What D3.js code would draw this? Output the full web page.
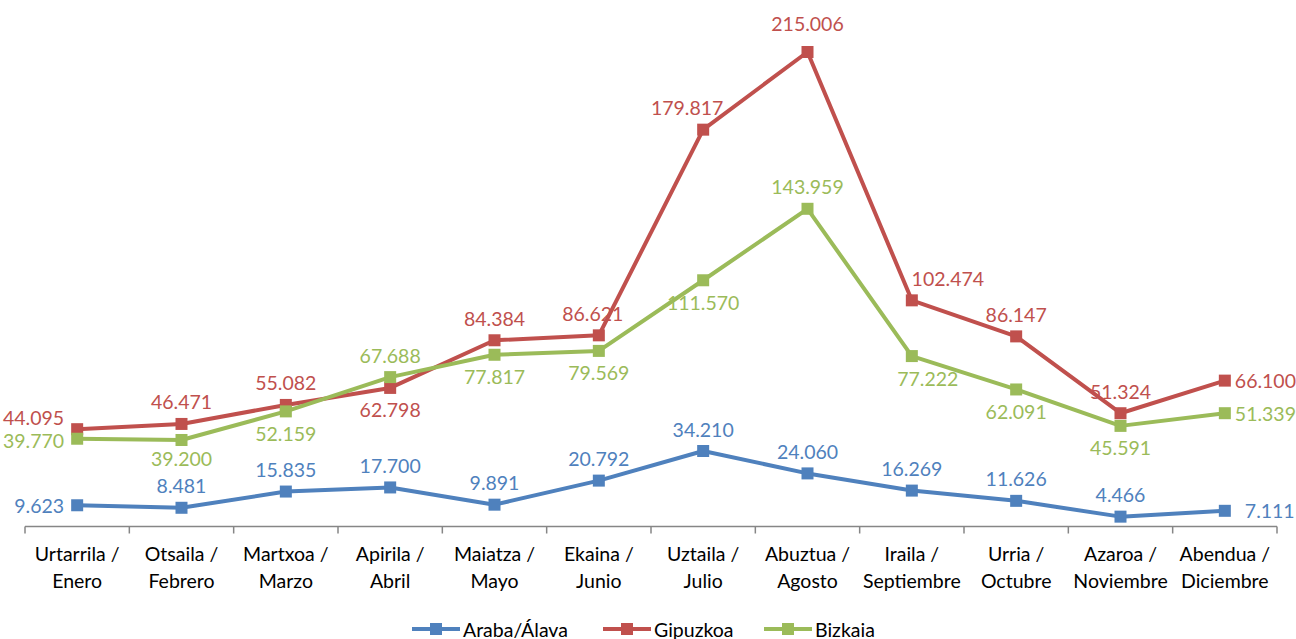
<!DOCTYPE html>
<html>
<head>
<meta charset="utf-8">
<script src="https://cdn.jsdelivr.net/npm/d3@7"></script>
<style>
  body { margin: 0; background: #fff; }
  text { font-family: Lato, "Open Sans", sans-serif; }
</style>
</head>
<body>
<div id="chart"></div>
<script>
// data
var months = ["Urtarrila / Enero", "Otsaila / Febrero", "Martxoa / Marzo", "Apirila / Abril",
  "Maiatza / Mayo", "Ekaina / Junio", "Uztaila / Julio", "Abuztua / Agosto",
  "Iraila / Septiembre", "Urria / Octubre", "Azaroa / Noviembre", "Abendua / Diciembre"];
var seriesNames = ["Araba/Álava", "Gipuzkoa", "Bizkaia"];
var araba = [9.623, 8.481, 15.835, 17.700, 9.891, 20.792, 34.210, 24.060, 16.269, 11.626, 4.466, 7.111];
var gipuzkoa = [44.095, 46.471, 55.082, 62.798, 84.384, 86.621, 179.817, 215.006, 102.474, 86.147, 51.324, 66.100];
var bizkaia = [39.770, 39.200, 52.159, 67.688, 77.817, 79.569, 111.570, 143.959, 77.222, 62.091, 45.591, 51.339];

var colors = ["#4F81BD", "#C0504D", "#9BBB59"];

// label placement: a = above, b = below, l = left, r = right
var labelPos = [
  ["l", "a", "a", "a", "a", "a", "a", "a", "a", "a", "a", "r"],
  ["l", "a", "a", "b", "a", "a", "a", "a", "a", "a", "a", "r"],
  ["l", "b", "b", "a", "b", "b", "b", "a", "b", "b", "b", "r"]
];
// small manual nudges [series, index, dx, dy]
var nudges = [
  [0, 11, 10, 0],
  [1, 0, 0, -12],
  [1, 5, -6, 0],
  [1, 6, -16, 0],
  [1, 7, 0, -7],
  [1, 8, 36, 0],
  [2, 0, 0, 2],
  [2, 8, 16, 0],
  [2, 1, 0, -3]
];

var fontSize = 19.5;
var width = 1296, height = 639;
var svg = d3.select("#chart").append("svg")
  .attr("width", width)
  .attr("height", height);

var x = d3.scaleBand().domain(months).range([25, 1277]);
var y = d3.scaleLinear().domain([0, 215.006]).range([526.5, 52]);

// x axis
var axis = svg.append("g")
  .attr("transform", "translate(0, 526.5)");
axis.append("line")
  .attr("x1", 25).attr("x2", 1277)
  .attr("stroke", "#868686").attr("stroke-width", 1.5);
var bounds = months.map(d => x(d)).concat([x.range()[1]]);
axis.selectAll(".tk")
  .data(bounds)
  .enter().append("line")
  .attr("x1", d => d).attr("x2", d => d)
  .attr("y1", 0).attr("y2", 7)
  .attr("stroke", "#868686").attr("stroke-width", 1.5);

var tickLabels = axis.selectAll(".tl")
  .data(months)
  .enter().append("text")
  .attr("text-anchor", "middle")
  .attr("font-size", fontSize)
  .attr("fill", "#000");
tickLabels.each(function(d) {
  var parts = d.split(" / ");
  var t = d3.select(this);
  t.append("tspan").attr("x", x(d) + x.bandwidth() / 2).attr("y", 34).text(parts[0] + " /");
  t.append("tspan").attr("x", x(d) + x.bandwidth() / 2).attr("y", 61).text(parts[1]);
});

var allSeries = [araba, gipuzkoa, bizkaia];
var line = d3.line()
  .x((d, i) => x(months[i]) + x.bandwidth() / 2)
  .y(d => y(d));

var fmt = d3.format(".3f");

allSeries.forEach(function(vals, s) {
  var g = svg.append("g");
  g.append("path")
    .datum(vals)
    .attr("d", line)
    .attr("fill", "none")
    .attr("stroke", colors[s])
    .attr("stroke-width", 4)
    .attr("stroke-linejoin", "round");
  g.selectAll("rect")
    .data(vals)
    .enter().append("rect")
    .attr("x", (d, i) => x(months[i]) + x.bandwidth() / 2 - 6)
    .attr("y", d => y(d) - 6)
    .attr("width", 12).attr("height", 12)
    .attr("fill", colors[s]);
});

// data labels drawn on top
allSeries.forEach(function(vals, s) {
  svg.append("g").selectAll("text")
    .data(vals)
    .enter().append("text")
    .attr("font-size", fontSize)
    .attr("fill", colors[s])
    .attr("dominant-baseline", "central")
    .each(function(d, i) {
      var cx = x(months[i]) + x.bandwidth() / 2, cy = y(d);
      var p = labelPos[s][i], dx = 0, dy = 0, anchor = "middle";
      if (p === "a") dy = -22;
      else if (p === "b") dy = 22;
      else if (p === "l") { dx = -13; anchor = "end"; }
      else { dx = 10; anchor = "start"; }
      nudges.forEach(function(n) {
        if (n[0] === s && n[1] === i) { dx += n[2]; dy += n[3]; }
      });
      d3.select(this)
        .attr("x", cx + dx).attr("y", cy + dy)
        .attr("text-anchor", anchor)
        .text(fmt(d));
    });
});

// legend
var legendX = [412, 603, 764];
var legend = svg.append("g").attr("transform", "translate(0, 629)");
seriesNames.forEach(function(name, s) {
  var lg = legend.append("g").attr("transform", "translate(" + legendX[s] + ",0)");
  lg.append("line").attr("x1", 0).attr("x2", 48)
    .attr("stroke", colors[s]).attr("stroke-width", 4);
  lg.append("rect").attr("x", 18).attr("y", -6).attr("width", 12).attr("height", 12)
    .attr("fill", colors[s]);
  lg.append("text").attr("x", 51).attr("y", 0)
    .attr("dominant-baseline", "central")
    .attr("font-size", fontSize).attr("fill", "#000")
    .text(name);
});
</script>
</body>
</html>
